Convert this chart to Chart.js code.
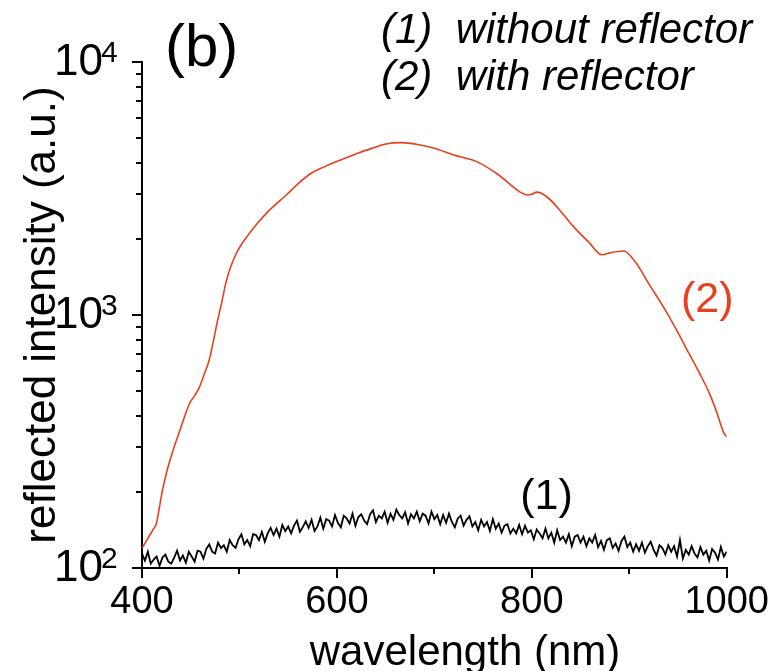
<!DOCTYPE html>
<html>
<head>
  <title>Reflected intensity spectra</title>
  <script src="https://cdn.jsdelivr.net/npm/chart.js"></script>
  <style>
    body { margin: 0; background: #fff; }
  </style>
</head>
<body>
  <canvas id="spectraChart" width="773" height="671"></canvas>

  <script>
    // curve (2): with reflector, smooth spectrum
    const wl2 = [400, 403, 408, 412, 415, 418, 421, 426, 432, 439, 444, 449, 454, 459, 464, 469, 473, 477, 482, 486,
                 491, 497, 502, 508, 517, 530, 548, 560, 574, 587, 599, 611, 622, 636, 650, 666, 683, 700, 719, 744,
                 765, 788, 795, 800, 805, 816, 830, 843, 858, 872, 880, 894, 907, 920, 935, 948, 961, 972, 982, 990,
                 997, 1000];
    const int2 = [120, 125, 135, 143, 151, 175, 203, 245, 293, 351, 400, 449, 480, 519, 585, 664, 780, 929, 1130, 1336,
                  1550, 1758, 1900, 2050, 2270, 2580, 2980, 3300, 3640, 3850, 4030, 4200, 4370, 4560, 4740, 4800, 4720, 4560, 4300, 4030,
                  3600, 3060, 2980, 3000, 3060, 2920, 2560, 2230, 1950, 1730, 1760, 1790, 1605, 1330, 1077, 880, 708, 590, 492, 410,
                  342, 330];

    // curve (1): without reflector, noisy spectrum sampled every 3 nm from 400 nm
    const wl1Start = 400;
    const wl1Step = 3;
    const int1 = [
      114, 107, 116, 104, 108, 111, 102, 110, 113, 106,
      104, 110, 117, 107, 112, 105, 116, 111, 106, 117,
      116, 109, 119, 124, 116, 114, 126, 120, 123, 116,
      129, 123, 120, 130, 136, 124, 129, 122, 136, 135,
      129, 139, 127, 137, 144, 135, 143, 133, 148, 140,
      146, 137, 147, 154, 139, 145, 153, 144, 155, 140,
      146, 158, 143, 156, 154, 146, 162, 151, 145, 161,
      157, 150, 164, 147, 159, 163, 154, 149, 163, 169,
      152, 161, 157, 167, 151, 164, 155, 170, 162, 157,
      166, 150, 163, 157, 167, 153, 164, 161, 150, 167,
      156, 162, 149, 162, 151, 164, 152, 145, 157, 161,
      147, 155, 160, 146, 152, 141, 155, 146, 152, 140,
      156, 143, 150, 138, 147, 149, 137, 143, 137, 148,
      136, 147, 138, 141, 130, 142, 137, 131, 143, 131,
      138, 126, 141, 129, 133, 126, 136, 122, 133, 135,
      126, 133, 122, 131, 126, 135, 121, 128, 118, 129,
      131, 120, 125, 117, 128, 133, 121, 126, 116, 124,
      117, 126, 115, 122, 127, 118, 112, 123, 120, 113,
      123, 116, 122, 111, 129, 109, 118, 113, 122, 114,
      110, 121, 113, 117, 107, 119, 115, 108, 121, 111,
      116
    ];

    const xTicksLabelled = [400, 600, 800, 1000];
    const xTicksMinor = [500, 700, 900];
    const yDecades = [100, 1000, 10000];
    const yExponents = ['2', '3', '4'];
    const yTicksMinor = [200, 300, 400, 500, 600, 700, 800, 900,
                         2000, 3000, 4000, 5000, 6000, 7000, 8000, 9000];

    const red = '#e8401c';
    const fontFamily = '"Liberation Sans", Arial, Helvetica, sans-serif';

    const series1 = int1.map((v, i) => ({ x: wl1Start + i * wl1Step, y: v }));
    const series2 = wl2.map((w, i) => ({ x: w, y: int2[i] }));

    // outward tick marks: long on decades / labelled wavelengths, short otherwise
    function drawTicks(chart) {
      const ctx = chart.ctx;
      const xs = chart.scales.x;
      const ys = chart.scales.y;
      const area = chart.chartArea;
      ctx.save();
      ctx.fillStyle = '#000';
      const yTick = (v, len) => {
        const py = Math.round(ys.getPixelForValue(v));
        ctx.fillRect(area.left - len, py - 1, len + 1, 2);
      };
      const xTick = (v, len) => {
        const px = Math.round(xs.getPixelForValue(v));
        ctx.fillRect(px - 1, area.bottom - 1, 2, len + 1);
      };
      yDecades.forEach(v => yTick(v, 10));
      yTicksMinor.forEach(v => yTick(v, 6));
      xTicksLabelled.forEach(v => xTick(v, 10));
      xTicksMinor.forEach(v => xTick(v, 6));
      ctx.restore();
    }

    // text that sits on the plot: panel tag, key, curve labels, decade labels, x title
    function drawTexts(chart) {
      const ctx = chart.ctx;
      const xs = chart.scales.x;
      const ys = chart.scales.y;
      ctx.save();
      ctx.fillStyle = '#000';
      ctx.textBaseline = 'alphabetic';
      ctx.textAlign = 'left';

      // y decade labels as 10 with raised exponent
      yDecades.forEach((v, i) => {
        const py = ys.getPixelForValue(v);
        ctx.font = '44px ' + fontFamily;
        ctx.fillText('10', 54, py + 13);
        ctx.font = '30px ' + fontFamily;
        ctx.fillText(yExponents[i], 101, py);
      });

      ctx.font = '60px ' + fontFamily;
      ctx.fillText('(b)', 165, 66);

      ctx.font = 'italic 42px ' + fontFamily;
      ctx.fillText('(1)  without reflector', 381, 43);
      ctx.fillText('(2)  with reflector', 381, 90);

      ctx.font = '42px ' + fontFamily;
      ctx.textAlign = 'center';
      ctx.fillText('wavelength (nm)', 465, 665);

      ctx.font = '43px ' + fontFamily;
      ctx.textBaseline = 'middle';
      ctx.fillText('(1)', xs.getPixelForValue(815), ys.getPixelForValue(191));
      ctx.fillStyle = red;
      ctx.fillText('(2)', xs.getPixelForValue(980), ys.getPixelForValue(1146));
      ctx.restore();
    }

    const overlay = {
      id: 'overlay',
      afterDraw(chart) {
        drawTicks(chart);
        drawTexts(chart);
      }
    };

    const ctx = document.getElementById('spectraChart').getContext('2d');
    new Chart(ctx, {
      type: 'line',
      data: {
        datasets: [
          {
            label: '(1) without reflector',
            data: series1,
            borderColor: '#000',
            borderWidth: 1.8,
            pointRadius: 0,
            tension: 0
          },
          {
            label: '(2) with reflector',
            data: series2,
            borderColor: red,
            borderWidth: 1.6,
            pointRadius: 0,
            cubicInterpolationMode: 'monotone'
          }
        ]
      },
      options: {
        responsive: false,
        animation: false,
        layout: { padding: { top: 62, right: 42, left: 0, bottom: 0 } },
        plugins: {
          legend: { display: false },
          tooltip: { enabled: false }
        },
        scales: {
          x: {
            type: 'linear',
            min: 400,
            max: 1000,
            afterFit: s => { s.height = 103; },
            border: { display: true, color: '#000', width: 2 },
            grid: { drawOnChartArea: false, drawTicks: true, tickLength: 8, tickColor: 'rgba(0,0,0,0)' },
            ticks: {
              stepSize: 100,
              autoSkip: false,
              maxRotation: 0,
              padding: 4,
              color: '#000',
              font: { family: fontFamily, size: 38 },
              callback: v => xTicksLabelled.includes(v) ? String(v) : ''
            }
          },
          y: {
            type: 'logarithmic',
            min: 100,
            max: 10000,
            afterFit: s => { s.width = 142; },
            border: { display: true, color: '#000', width: 2 },
            grid: { drawOnChartArea: false, drawTicks: true, tickLength: 7, tickColor: 'rgba(0,0,0,0)' },
            ticks: {
              autoSkip: false,
              color: '#000',
              callback: () => ''
            },
            title: {
              display: true,
              text: 'reflected intensity (a.u.)',
              color: '#000',
              font: { family: fontFamily, size: 44 },
              padding: { top: 16, bottom: 0 }
            }
          }
        }
      },
      plugins: [overlay]
    });
  </script>
</body>
</html>
